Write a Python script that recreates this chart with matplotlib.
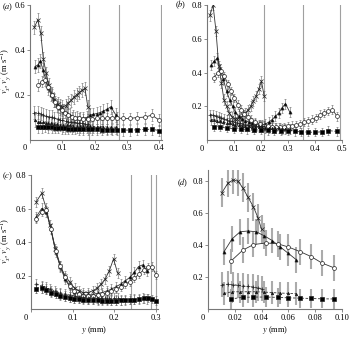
import matplotlib
matplotlib.use('Agg')
import matplotlib.pyplot as plt
from matplotlib.transforms import ScaledTranslation

plt.rcParams['font.family'] = 'Liberation Serif'
plt.rcParams['mathtext.fontset'] = 'stix'
plt.rcParams['font.size'] = 6

# ---- panel (a) ----
a_x1 = [0.013, 0.024, 0.033, 0.041, 0.05, 0.058, 0.067, 0.075, 0.085, 0.093, 0.10, 0.11, 0.119, 0.127, 0.136, 0.145, 0.153, 0.162, 0.17, 0.179]
a_y1 = [0.50, 0.535, 0.475, 0.36, 0.295, 0.245, 0.205, 0.175, 0.16, 0.15, 0.145, 0.15, 0.165, 0.175, 0.19, 0.20, 0.21, 0.22, 0.228, 0.145]
a_x2 = [0.015, 0.024, 0.032, 0.04, 0.049, 0.057, 0.065, 0.073, 0.082, 0.093, 0.103, 0.113, 0.124, 0.134, 0.145, 0.155, 0.165, 0.175, 0.186, 0.196, 0.206, 0.216, 0.227, 0.237, 0.25, 0.266]
a_y2 = [0.325, 0.333, 0.35, 0.31, 0.265, 0.228, 0.20, 0.176, 0.153, 0.139, 0.127, 0.12, 0.109, 0.10, 0.098, 0.094, 0.094, 0.098, 0.109, 0.112, 0.116, 0.12, 0.127, 0.134, 0.146, 0.109]
a_x3 = [0.026, 0.036, 0.046, 0.057, 0.067, 0.077, 0.088, 0.098, 0.108, 0.119, 0.129, 0.139, 0.152, 0.165, 0.179, 0.193, 0.206, 0.222, 0.237, 0.253, 0.268, 0.289, 0.31, 0.33, 0.356, 0.377, 0.40]
a_y3 = [0.243, 0.258, 0.265, 0.235, 0.20, 0.168, 0.146, 0.13, 0.12, 0.109, 0.10, 0.098, 0.094, 0.09, 0.09, 0.09, 0.094, 0.094, 0.094, 0.098, 0.096, 0.094, 0.094, 0.098, 0.10, 0.109, 0.087]
a_y4 = [0.12, 0.12, 0.115, 0.11, 0.105, 0.10, 0.10, 0.095, 0.09, 0.088, 0.085, 0.082, 0.08, 0.078, 0.076, 0.075, 0.074, 0.072, 0.07, 0.068]
a_y5 = [0.085, 0.08, 0.078, 0.076, 0.075, 0.073, 0.072, 0.07, 0.068, 0.066, 0.065, 0.064, 0.063, 0.062, 0.061, 0.06, 0.06, 0.06, 0.06, 0.058, 0.058, 0.057, 0.057, 0.056, 0.055, 0.055]
a_y6 = [0.055, 0.055, 0.058, 0.056, 0.055, 0.053, 0.052, 0.05, 0.05, 0.049, 0.048, 0.048, 0.047, 0.046, 0.045, 0.045, 0.045, 0.044, 0.044, 0.043, 0.043, 0.042, 0.042, 0.043, 0.045, 0.046, 0.04]
a_vlines = [0.184, 0.275, 0.407]

# ---- panel (b) ----
b_x1 = [0.011, 0.023, 0.034, 0.044, 0.054, 0.063, 0.073, 0.083, 0.094, 0.103, 0.113, 0.123, 0.133, 0.143, 0.153, 0.163, 0.172, 0.182, 0.192, 0.202, 0.212]
b_y1 = [0.74, 0.80, 0.645, 0.44, 0.34, 0.24, 0.20, 0.16, 0.135, 0.125, 0.125, 0.13, 0.145, 0.16, 0.18, 0.20, 0.23, 0.26, 0.30, 0.35, 0.26]
b_x2 = [0.016, 0.028, 0.039, 0.05, 0.061, 0.073, 0.084, 0.095, 0.106, 0.118, 0.131, 0.143, 0.155, 0.168, 0.18, 0.192, 0.204, 0.217, 0.229, 0.241, 0.254, 0.266, 0.278, 0.291, 0.307]
b_y2 = [0.445, 0.47, 0.485, 0.42, 0.36, 0.29, 0.24, 0.20, 0.165, 0.14, 0.125, 0.115, 0.105, 0.10, 0.095, 0.09, 0.09, 0.095, 0.105, 0.12, 0.14, 0.16, 0.19, 0.215, 0.165]
b_x3 = [0.026, 0.041, 0.053, 0.065, 0.078, 0.09, 0.102, 0.115, 0.127, 0.139, 0.152, 0.165, 0.18, 0.195, 0.21, 0.225, 0.24, 0.255, 0.27, 0.285, 0.30, 0.315, 0.33, 0.345, 0.36, 0.375, 0.39, 0.405, 0.42, 0.435, 0.45, 0.465, 0.482]
b_y3 = [0.37, 0.40, 0.41, 0.38, 0.33, 0.29, 0.25, 0.21, 0.18, 0.155, 0.135, 0.12, 0.105, 0.095, 0.085, 0.08, 0.078, 0.075, 0.075, 0.076, 0.08, 0.085, 0.09, 0.095, 0.105, 0.11, 0.12, 0.13, 0.15, 0.16, 0.17, 0.18, 0.14]
b_y4 = [0.15, 0.15, 0.14, 0.135, 0.13, 0.125, 0.12, 0.115, 0.11, 0.105, 0.10, 0.10, 0.095, 0.09, 0.09, 0.088, 0.085, 0.085, 0.082, 0.08, 0.08]
b_y5 = [0.12, 0.12, 0.115, 0.11, 0.105, 0.10, 0.098, 0.095, 0.09, 0.088, 0.085, 0.082, 0.08, 0.078, 0.076, 0.075, 0.074, 0.072, 0.07, 0.07, 0.068, 0.068, 0.066, 0.065, 0.065]
b_x6 = [0.026, 0.05, 0.075, 0.10, 0.125, 0.15, 0.175, 0.20, 0.225, 0.25, 0.275, 0.30, 0.325, 0.35, 0.375, 0.40, 0.425, 0.45, 0.482]
b_y6 = [0.075, 0.075, 0.07, 0.065, 0.065, 0.062, 0.06, 0.058, 0.056, 0.055, 0.054, 0.052, 0.05, 0.048, 0.046, 0.045, 0.048, 0.055, 0.05]
b_vlines = [0.213, 0.356, 0.494]

# ---- panel (c) ----
c_x1 = [0.013, 0.026, 0.037, 0.046, 0.058, 0.07, 0.082, 0.094, 0.105, 0.115, 0.126, 0.137, 0.148, 0.158, 0.168, 0.178, 0.188, 0.198, 0.208]
c_y1 = [0.64, 0.69, 0.60, 0.50, 0.36, 0.26, 0.20, 0.16, 0.125, 0.11, 0.10, 0.10, 0.11, 0.125, 0.15, 0.18, 0.23, 0.30, 0.215]
c_x2 = [0.013, 0.026, 0.037, 0.048, 0.06, 0.071, 0.082, 0.093, 0.104, 0.115, 0.126, 0.137, 0.148, 0.16, 0.171, 0.182, 0.193, 0.204, 0.215, 0.226, 0.237, 0.248, 0.258, 0.268, 0.278]
c_y2 = [0.55, 0.60, 0.58, 0.48, 0.34, 0.25, 0.18, 0.135, 0.105, 0.09, 0.085, 0.085, 0.088, 0.095, 0.10, 0.11, 0.12, 0.135, 0.15, 0.17, 0.19, 0.22, 0.255, 0.265, 0.23]
c_x3 = [0.013, 0.026, 0.037, 0.048, 0.06, 0.071, 0.082, 0.093, 0.104, 0.115, 0.126, 0.137, 0.148, 0.16, 0.171, 0.182, 0.193, 0.204, 0.215, 0.226, 0.237, 0.248, 0.259, 0.27, 0.28, 0.29, 0.30]
c_y3 = [0.54, 0.58, 0.59, 0.48, 0.35, 0.26, 0.19, 0.14, 0.11, 0.09, 0.08, 0.078, 0.08, 0.085, 0.09, 0.10, 0.11, 0.12, 0.135, 0.15, 0.165, 0.185, 0.21, 0.235, 0.25, 0.255, 0.205]
c_y4 = [0.15, 0.14, 0.13, 0.12, 0.11, 0.10, 0.09, 0.085, 0.08, 0.075, 0.072, 0.07, 0.07, 0.068, 0.068, 0.067, 0.066, 0.065, 0.065]
c_y5 = [0.125, 0.13, 0.12, 0.11, 0.10, 0.09, 0.08, 0.075, 0.07, 0.068, 0.065, 0.063, 0.062, 0.06, 0.06, 0.06, 0.058, 0.058, 0.058, 0.058, 0.06, 0.06, 0.062, 0.065, 0.06]
c_y6 = [0.12, 0.125, 0.115, 0.10, 0.09, 0.08, 0.075, 0.068, 0.064, 0.06, 0.056, 0.055, 0.054, 0.053, 0.052, 0.052, 0.052, 0.052, 0.053, 0.054, 0.055, 0.058, 0.062, 0.065, 0.068, 0.06, 0.052]
c_vlines = [0.240, 0.288, 0.300]

# ---- panel (d) ----
d_x1 = [0.0105, 0.015, 0.019, 0.0225, 0.026, 0.030, 0.034, 0.0375, 0.040]
d_y1 = [0.73, 0.79, 0.81, 0.80, 0.76, 0.70, 0.64, 0.57, 0.50]
d_x2 = [0.012, 0.018, 0.024, 0.030, 0.036, 0.042, 0.048, 0.054, 0.060, 0.066]
d_y2 = [0.36, 0.44, 0.485, 0.49, 0.485, 0.46, 0.43, 0.39, 0.35, 0.31]
d_x3 = [0.017, 0.026, 0.034, 0.043, 0.052, 0.060, 0.069, 0.077, 0.085, 0.094]
d_y3 = [0.30, 0.37, 0.405, 0.415, 0.41, 0.39, 0.36, 0.33, 0.29, 0.26]
d_y4 = [0.155, 0.157, 0.155, 0.15, 0.147, 0.143, 0.14, 0.135, 0.13]
d_y5 = [0.10, 0.11, 0.11, 0.11, 0.11, 0.108, 0.105, 0.102, 0.10, 0.098]
d_y6 = [0.065, 0.075, 0.077, 0.077, 0.075, 0.072, 0.07, 0.068, 0.066, 0.065]

# error bar half widths per series (solid x3, dashed x3)
err_abc = [0.03, 0.03, 0.025, 0.03, 0.03, 0.025]
err_d = [0.09, 0.08, 0.08, 0.08, 0.07, 0.06]

fig = plt.figure(figsize=(3.5, 3.37), dpi=100)
ax_a = fig.add_axes([0.086, 0.586, 0.378, 0.399])
ax_b = fig.add_axes([0.591, 0.585, 0.386, 0.399])
ax_c = fig.add_axes([0.088, 0.082, 0.364, 0.399])
ax_d = fig.add_axes([0.594, 0.082, 0.383, 0.413])


def draw(ax, series, errs, thick):
    # series: list of (x, y, marker, mfc, ms, dashed)
    for (x, y, mk, mfc, ms, dashed), e in zip(series, errs):
        if thick:
            ax.errorbar(x, y, yerr=e, fmt='none', ecolor='#ababab', elinewidth=1.5, capsize=0, zorder=1)
        else:
            ax.errorbar(x, y, yerr=e, fmt='none', ecolor='#666666', elinewidth=0.4, capsize=1.0, capthick=0.4, zorder=1)
        ax.plot(x, y, color='#333333', lw=0.6, ls=(0, (3, 2)) if dashed else '-',
                marker=mk, ms=ms, mfc=mfc, mec='#222222', mew=0.5, zorder=3)


def style(ax, xlim, ylim, xticks, yticks, xfmt):
    ax.set_xlim(*xlim)
    ax.set_ylim(*ylim)
    ax.set_xticks(xticks)
    ax.set_xticklabels([xfmt % t if t != 0 else '0' for t in xticks])
    ax.set_yticks(yticks)
    ax.set_yticklabels(['%.1f' % t for t in yticks])
    for s in ['top', 'right']:
        ax.spines[s].set_visible(False)
    for s in ['left', 'bottom']:
        ax.spines[s].set_color('#777777')
        ax.spines[s].set_linewidth(0.8)
    ax.tick_params(length=2, width=0.6, color='#777777', pad=1.5, labelsize=6)
    lab = ax.get_xticklabels()[0]
    lab.set_transform(lab.get_transform() + ScaledTranslation(-0.055, 0, fig.dpi_scale_trans))


def panel_series(x1, y1, x2, y2, x3, y3, y4, y5, y6):
    return [(x1, y1, 'x', 'k', 2.5, False),
            (x2, y2, '^', 'k', 2.2, False),
            (x3, y3, 'o', 'white', 2.8, False),
            (x1, y4, '+', 'k', 2.5, True),
            (x2, y5, '^', 'k', 1.8, True),
            (x3, y6, 's', 'k', 2.2, True)]


draw(ax_a, panel_series(a_x1, a_y1, a_x2, a_y2, a_x3, a_y3, a_y4, a_y5, a_y6), err_abc, False)
for v in a_vlines:
    ax_a.axvline(v, color='#a0a0a0', lw=0.8, zorder=0)
style(ax_a, (0, 0.41), (0, 0.6), [0, 0.1, 0.2, 0.3, 0.4], [0.2, 0.4, 0.6], '%.1f')

sb = panel_series(b_x1, b_y1, b_x2, b_y2, b_x3, b_y3, b_y4, b_y5, b_y6)
sb[5] = (b_x6, b_y6, 's', 'k', 2.2, True)
draw(ax_b, sb, err_abc, False)
for v in b_vlines:
    ax_b.axvline(v, color='#a0a0a0', lw=0.8, zorder=0)
style(ax_b, (0, 0.5), (0, 0.8), [0, 0.1, 0.2, 0.3, 0.4, 0.5], [0.2, 0.4, 0.6, 0.8], '%.1f')

draw(ax_c, panel_series(c_x1, c_y1, c_x2, c_y2, c_x3, c_y3, c_y4, c_y5, c_y6), err_abc, False)
for v in c_vlines:
    ax_c.axvline(v, color='#a0a0a0', lw=0.8, zorder=0)
style(ax_c, (0, 0.305), (0, 0.8), [0, 0.1, 0.2, 0.3], [0.2, 0.4, 0.6, 0.8], '%.1f')

draw(ax_d, panel_series(d_x1, d_y1, d_x2, d_y2, d_x3, d_y3, d_y4, d_y5, d_y6), err_d, True)
style(ax_d, (0, 0.1), (0, 0.87), [0, 0.02, 0.04, 0.06, 0.08, 0.10], [0.2, 0.4, 0.6, 0.8], '%.2f')

ylab = "$v_x'$, $v_y'$ (m s$^{-1}$)"
fig.text(0.018, 0.79, ylab, rotation=90, ha='center', va='center', fontsize=6)
fig.text(0.018, 0.285, ylab, rotation=90, ha='center', va='center', fontsize=6)
ax_c.set_xlabel('$y$ (mm)', fontsize=6, labelpad=1.5)
ax_d.set_xlabel('$y$ (mm)', fontsize=6, labelpad=1.5)

fig.text(0.022, 0.978, '($a$)', ha='center', va='center', fontsize=6)
fig.text(0.515, 0.985, '($b$)', ha='center', va='center', fontsize=6)
fig.text(0.022, 0.478, '($c$)', ha='center', va='center', fontsize=6)
fig.text(0.522, 0.457, '($d$)', ha='center', va='center', fontsize=6)

fig.savefig('out.png', dpi=100)
